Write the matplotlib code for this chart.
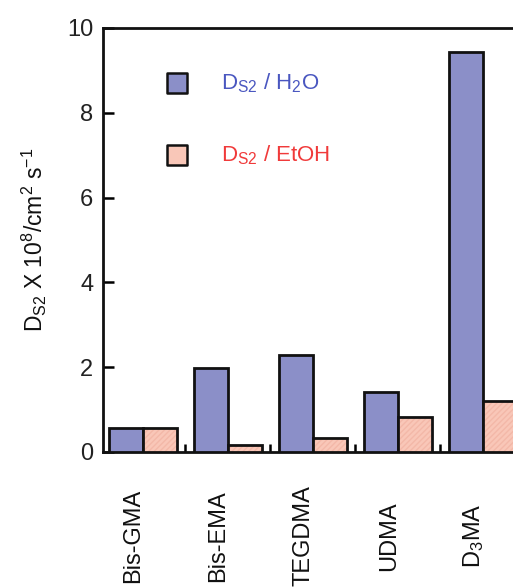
import matplotlib
matplotlib.use("Agg")
import matplotlib.pyplot as plt
import numpy as np

plt.rcParams['font.family'] = ['Liberation Sans', 'DejaVu Sans']
plt.rcParams['mathtext.default'] = 'regular'

categories = ['Bis-GMA', 'Bis-EMA', 'TEGDMA', 'UDMA', r'D$_3$MA']
h2o = [0.57, 1.97, 2.29, 1.41, 9.44]
etoh = [0.56, 0.16, 0.32, 0.82, 1.21]
yticks = [0, 2, 4, 6, 8, 10]

blue = '#8b8fc8'
pink = '#f9c7b8'

fig = plt.figure(figsize=(5.13, 5.88), dpi=100)
ax = fig.add_axes([103/513, 1-452/588, 422.5/513, 424/588])

x = np.arange(len(categories))
w = 0.4
ax.bar(x - w/2, h2o, width=w, color=blue, edgecolor='#111111', linewidth=2, zorder=3)
ax.bar(x + w/2, etoh, width=w, color=pink, edgecolor='#f3b8a8', hatch='//////', linewidth=0, zorder=3)
ax.bar(x + w/2, etoh, width=w, fill=False, edgecolor='#111111', linewidth=2, zorder=4)

ax.set_xlim(-0.47, 4.5)
ax.set_ylim(0, 10)
ax.set_yticks(yticks)
ax.set_yticklabels([str(t) for t in yticks], fontsize=17, color='#222222')
ax.tick_params(axis='y', direction='in', length=8, width=1.8, pad=7)
ax.set_xticks(x[:-1] + 0.5)
ax.set_xticklabels([])
ax.tick_params(axis='x', direction='in', length=6, width=1.8)

for s in ['left', 'top', 'bottom', 'right']:
    ax.spines[s].set_linewidth(2)
    ax.spines[s].set_color('#111111')

# category labels
for i, c in enumerate(categories):
    ax.text(i - 0.11, -1.98, c, rotation=90, ha='center', va='center',
            fontsize=17, color='#111111', transform=ax.transData, clip_on=False)

ax.set_ylabel(r'D$_{S2}$ X 10$^8$/cm$^2$ s$^{-1}$', fontsize=16.5, color='#111111', labelpad=13)

# legend
ax.scatter([0.4], [8.7], marker='s', s=210, color=blue, edgecolor='#111111', linewidth=1.8, zorder=5, clip_on=False)
ax.scatter([0.4], [7.0], marker='s', s=210, color=pink, edgecolor='#111111', linewidth=1.8, zorder=5, clip_on=False)
ax.text(0.92, 8.7, r'D$_{S2}$ / H$_2$O', fontsize=16, color='#4a57c0', va='center', ha='left')
ax.text(0.92, 7.0, r'D$_{S2}$ / EtOH', fontsize=16, color='#f03a3a', va='center', ha='left')

fig.savefig('out.png', dpi=100)
